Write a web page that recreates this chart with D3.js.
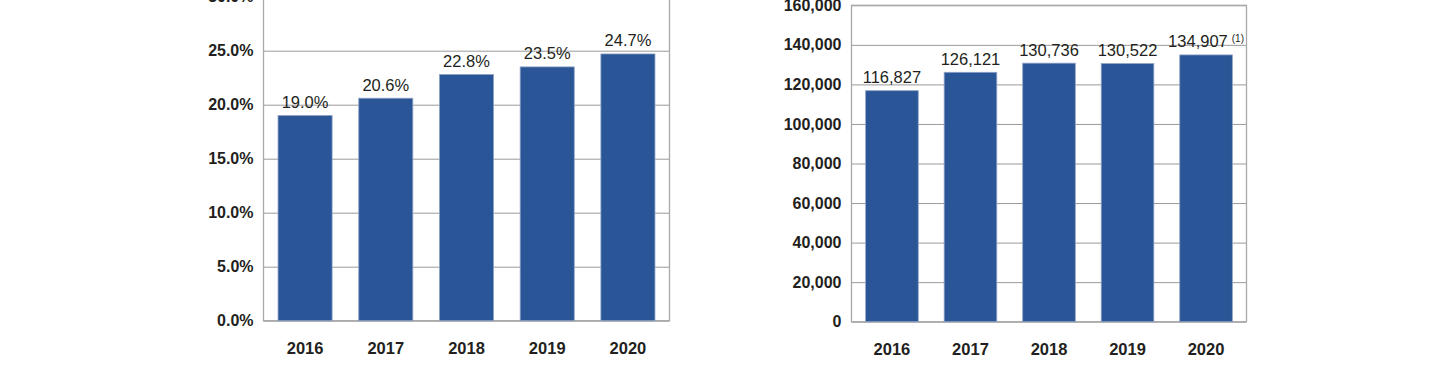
<!DOCTYPE html>
<html>
<head>
<meta charset="utf-8">
<script src="https://cdn.jsdelivr.net/npm/d3@7"></script>
<style>
  html, body { margin: 0; padding: 0; background: #fff; }
  svg { display: block; font-family: "Liberation Sans", Arial, Helvetica, sans-serif; }
</style>
</head>
<body>
<svg id="chart"></svg>
<script>
// data
const years = ["2016", "2017", "2018", "2019", "2020"];
const shareValues = [19.0, 20.6, 22.8, 23.5, 24.7];
const shareTicks = [0, 5, 10, 15, 20, 25, 30];
const countValues = [116827, 126121, 130736, 130522, 134907];
const countTicks = [0, 20000, 40000, 60000, 80000, 100000, 120000, 140000, 160000];
const countNotes = ["", "", "", "", "(1)"];

const width = 1440;
const height = 372;
const barColor = "#2a5596";
const textColor = "#231f20";

const svg = d3.select("#chart")
  .attr("width", width)
  .attr("height", height);

const drawPanel = (opts) => {
  const { x0, x1, yBottom, yTop, domainMax, values, ticks, tickFormat, valueFormat, notes } = opts;

  const g = svg.append("g");

  const xScale = d3.scaleBand()
    .domain(years)
    .range([x0, x1])
    .paddingInner(0.33)
    .paddingOuter(0.18);

  const yScale = d3.scaleLinear()
    .domain([0, domainMax])
    .range([yBottom, yTop]);

  // y axis + gridlines
  const yAxis = d3.axisLeft(yScale)
    .tickValues(ticks)
    .tickFormat(tickFormat)
    .tickSizeInner(-(x1 - x0))
    .tickSizeOuter(0)
    .tickPadding(10);

  const yg = g.append("g")
    .attr("transform", `translate(${x0},0)`)
    .call(yAxis);
  yg.select("path.domain").remove();
  yg.selectAll("line").attr("stroke", "#9a9a9a").attr("stroke-width", 1);
  yg.selectAll("text")
    .attr("fill", textColor)
    .style("font-size", "16px")
    .style("font-weight", "bold");

  // frame
  g.append("rect")
    .attr("x", x0)
    .attr("y", yScale(domainMax))
    .attr("width", x1 - x0)
    .attr("height", yBottom - yScale(domainMax))
    .attr("fill", "none")
    .attr("stroke", "#a8a8a8")
    .attr("stroke-width", 1.3);

  // bars
  g.selectAll(".bar")
    .data(values)
    .enter()
    .append("rect")
    .attr("class", "bar")
    .attr("x", (d, i) => xScale(years[i]))
    .attr("y", (d) => yScale(d))
    .attr("width", xScale.bandwidth())
    .attr("height", (d) => yBottom - yScale(d))
    .attr("fill", barColor)
    .attr("stroke", "#8ea3c6")
    .attr("stroke-width", 0.8);

  // value labels
  const labels = g.selectAll(".value")
    .data(values)
    .enter()
    .append("text")
    .attr("class", "value")
    .attr("x", (d, i) => xScale(years[i]) + xScale.bandwidth() / 2)
    .attr("y", (d) => yScale(d) - 7.5)
    .attr("text-anchor", "middle")
    .attr("fill", textColor)
    .style("font-size", "16.5px");

  labels.append("tspan").text((d) => valueFormat(d));
  if (notes) {
    labels.filter((d, i) => notes[i] !== "")
      .append("tspan")
      .attr("dx", 4)
      .attr("dy", -5)
      .style("font-size", "10px")
      .text((d, i) => notes[values.indexOf(d)]);
  }

  // x axis
  const xAxis = d3.axisBottom(xScale)
    .tickSize(0)
    .tickPadding(0);
  const xg = g.append("g")
    .attr("transform", `translate(0,${yBottom})`)
    .call(xAxis);
  xg.select("path.domain").remove();
  xg.selectAll("text")
    .attr("dy", null)
    .attr("y", 33)
    .attr("fill", textColor)
    .style("font-size", "16.5px")
    .style("font-weight", "bold");
};

drawPanel({
  x0: 263.5,
  x1: 669.5,
  yBottom: 320.7,
  yTop: -3.3,
  domainMax: 30,
  values: shareValues,
  ticks: shareTicks,
  tickFormat: (d) => d.toFixed(1) + "%",
  valueFormat: (d) => d.toFixed(1) + "%"
});

drawPanel({
  x0: 851.5,
  x1: 1246.5,
  yBottom: 321.7,
  yTop: 5.3,
  domainMax: 160000,
  values: countValues,
  ticks: countTicks,
  tickFormat: d3.format(","),
  valueFormat: d3.format(","),
  notes: countNotes
});
</script>
</body>
</html>
